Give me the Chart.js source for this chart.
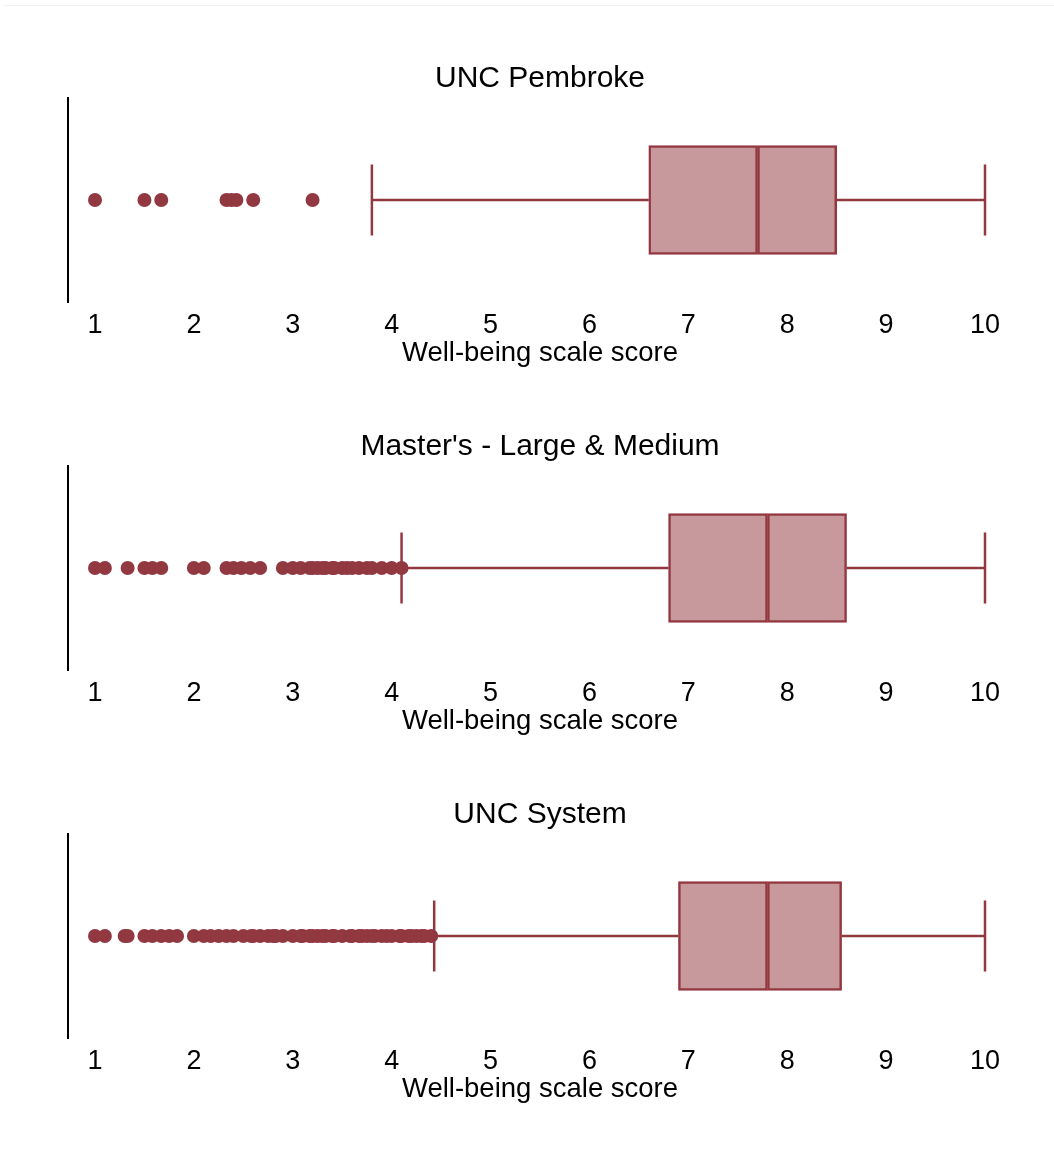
<!DOCTYPE html>
<html><head><meta charset="utf-8">
<script src="https://cdn.jsdelivr.net/npm/chart.js@4/dist/chart.umd.min.js"></script>
<style>
html,body{margin:0;padding:0;background:#fff;}
#wrap{position:relative;width:1054px;height:1151px;overflow:hidden;}
.rule{position:absolute;left:4px;right:0;top:5px;height:0;border-top:1px solid #eef4f4;}
canvas{position:absolute;left:0;}
</style></head><body>
<div id="wrap"><div class="rule"></div>
<canvas id="c0" width="1054" height="368" style="top:0px"></canvas>
<canvas id="c1" width="1054" height="368" style="top:368px"></canvas>
<canvas id="c2" width="1054" height="368" style="top:736px"></canvas>
</div>
<script>
const PANEL_TITLES = ["UNC Pembroke", "Master's - Large & Medium", "UNC System"];
const AXIS_TITLE = "Well-being scale score";
const TICKS = [1, 2, 3, 4, 5, 6, 7, 8, 9, 10];
const WHISKER_LOW  = [3.8, 4.1, 4.43];
const Q1           = [6.6, 6.8, 6.9];
const MEDIAN       = [7.7, 7.8, 7.8];
const Q3           = [8.5, 8.6, 8.55];
const WHISKER_HIGH = [10, 10, 10];
const OUTLIERS_PEMBROKE = [1.0, 1.5, 1.67, 2.33, 2.38, 2.43, 2.6, 3.2];
const OUTLIERS_MASTERS = [1.0, 1.1, 1.33, 1.5, 1.58, 1.67, 2.0, 2.1, 2.33, 2.4, 2.48, 2.57, 2.67,
  2.9, 3.0, 3.08, 3.17, 3.2, 3.25, 3.3, 3.33, 3.4, 3.42, 3.5, 3.55, 3.6, 3.67, 3.75, 3.8, 3.9, 4.0, 4.1];
const OUTLIERS_SYSTEM = [1.0, 1.1, 1.3, 1.33, 1.5, 1.58, 1.67, 1.75, 1.83,
  2.0, 2.1, 2.17, 2.25, 2.33, 2.4, 2.5, 2.58, 2.6, 2.67, 2.75, 2.8, 2.83, 2.9, 3.0, 3.08, 3.1, 3.17, 3.2, 3.25,
  3.3, 3.33, 3.4, 3.42, 3.5, 3.58, 3.6, 3.67, 3.7, 3.75, 3.8, 3.83, 3.9, 3.95, 4.0, 4.08, 4.1, 4.17, 4.2, 4.25, 4.3, 4.33, 4.4];
const OUTLIERS = [OUTLIERS_PEMBROKE, OUTLIERS_MASTERS, OUTLIERS_SYSTEM];

const LINE = '#933841';
const FILL = '#c8999c';
const DOT = '#913840';
Chart.defaults.font.family = "'Liberation Sans', Arial, sans-serif";
Chart.defaults.color = '#000';

for (let i = 0; i < 3; i++) {
  new Chart(document.getElementById('c' + i), {
    type: 'bar',
    data: { datasets: [
      { type: 'bar', data: [{ x: [Q1[i], MEDIAN[i]], y: 0 }], backgroundColor: FILL, borderColor: LINE,
        borderWidth: 2.5, borderSkipped: false, barThickness: 109, grouped: false, order: 2 },
      { type: 'bar', data: [{ x: [MEDIAN[i], Q3[i]], y: 0 }], backgroundColor: FILL, borderColor: LINE,
        borderWidth: 2.5, borderSkipped: false, barThickness: 109, grouped: false, order: 2 },
      { type: 'line', data: [{ x: WHISKER_LOW[i], y: 0 }, { x: Q1[i], y: 0 }], borderColor: LINE,
        borderWidth: 2.5, pointRadius: 0, fill: false, order: 3 },
      { type: 'line', data: [{ x: Q3[i], y: 0 }, { x: WHISKER_HIGH[i], y: 0 }], borderColor: LINE,
        borderWidth: 2.5, pointRadius: 0, fill: false, order: 3 },
      { type: 'scatter', data: [{ x: WHISKER_LOW[i], y: 0 }, { x: WHISKER_HIGH[i], y: 0 }],
        pointStyle: 'line', pointRotation: 90, pointRadius: 35.5, borderColor: LINE, pointBorderColor: LINE,
        borderWidth: 2.5, pointBorderWidth: 2.5, order: 1 },
      { type: 'scatter', data: OUTLIERS[i].map(v => ({ x: v, y: 0 })), pointStyle: 'circle', pointRadius: 7,
        backgroundColor: DOT, pointBackgroundColor: DOT, borderWidth: 0, pointBorderWidth: 0, order: 0 }
    ] },
    options: {
      responsive: false, animation: false, events: [], indexAxis: 'y',
      layout: { padding: { left: 0, right: 42, top: 0, bottom: 0 } },
      plugins: {
        legend: { display: false }, tooltip: { enabled: false },
        title: { display: true, text: PANEL_TITLES[i], fullSize: false, color: '#000',
          font: { size: 30, weight: 'normal' }, padding: { top: 61, bottom: 1 } }
      },
      scales: {
        x: { type: 'linear', min: 0.727, max: 10.273,
          grid: { display: false, drawTicks: false }, border: { display: false },
          afterBuildTicks: s => { s.ticks = TICKS.map(v => ({ value: v })); },
          afterFit: s => { s.height = 66; },
          ticks: { autoSkip: false, maxRotation: 0, padding: 7, color: '#000', font: { size: 27 } },
          title: { display: true, text: AXIS_TITLE, color: '#000', font: { size: 27.5 }, padding: { top: 0, bottom: -2 } } },
        y: { type: 'linear', min: -1, max: 1,
          grid: { display: false, drawTicks: false }, border: { display: true, color: '#000', width: 2 },
          ticks: { display: false }, afterFit: s => { s.width = 68; } }
      }
    }
  });
}
</script>
</body></html>
